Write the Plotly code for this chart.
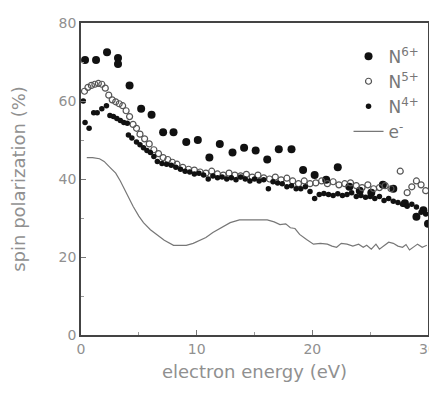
import plotly.graph_objects as go

# N6+ (large filled dots)
n6_x = [0.35, 1.3, 2.25, 3.2, 3.2, 4.2, 5.2, 6.1, 7.1, 8.0, 9.1, 10.1, 11.1, 12.0, 13.1, 14.1, 15.1, 16.1,
        17.1, 18.2, 19.2, 20.2, 21.2, 22.2, 23.2, 24.1, 25.1, 26.1, 27.0, 28.0, 29.0, 29.6, 30.0]
n6_y = [70.5, 70.5, 72.5, 71.0, 69.5, 64.0, 58.0, 56.5, 52.0, 52.0, 49.5, 50.0, 45.5, 49.0, 46.8, 48.0, 47.3, 45.0,
        47.6, 47.6, 42.3, 41.0, 39.8, 43.0, 38.0, 37.0, 36.5, 38.5, 37.5, 33.8, 30.3, 32.0, 28.5]

# N5+ (open circles)
n5_x = [0.3, 0.6, 0.9, 1.2, 1.5, 1.8, 2.1, 2.4, 2.7, 3.0, 3.3, 3.6, 3.9, 4.2, 4.5, 4.8, 5.1, 5.5, 5.9, 6.3,
        6.7, 7.1, 7.5, 7.9, 8.3, 8.8, 9.3, 9.8, 10.3, 10.8, 11.3, 11.8, 12.3, 12.8, 13.3, 13.8, 14.3, 14.8,
        15.3, 15.8, 16.3, 16.8, 17.3, 17.8, 18.3, 18.8, 19.3, 19.8, 20.3, 20.8, 21.3, 21.8, 22.3, 22.8,
        23.3, 23.8, 24.3, 24.8, 25.3, 25.8, 26.3, 26.8, 27.6, 28.2, 28.6, 29.0, 29.4, 29.8]
n5_y = [62.5, 63.5, 64.0, 64.3, 64.5, 64.3, 63.3, 61.5, 60.3, 59.8, 59.3, 58.8, 57.5, 56.0, 54.0, 53.0, 51.5, 50.3,
        49.0, 47.5, 46.5, 45.5, 45.0, 44.3, 43.8, 43.0, 42.5, 42.3, 41.8, 41.5, 42.0, 41.3, 41.0, 41.5, 41.0,
        40.8, 41.2, 40.5, 41.0, 40.3, 40.0, 40.5, 39.8, 40.2, 39.5, 38.8, 39.5, 38.8, 39.0, 39.5, 38.8, 39.3,
        38.5, 38.8, 39.0, 38.3, 37.8, 38.5, 37.5, 37.8, 38.3, 37.5, 42.0, 36.5, 38.0, 39.5, 38.5, 37.0]

# N4+ (small filled dots)
n4_x = [0.2, 0.35, 0.7, 1.1, 1.4, 1.8, 2.2, 2.5, 2.8, 3.1, 3.4, 3.7, 4.0, 4.1, 4.4, 4.8, 5.1, 5.4, 5.7, 6.0,
        6.3, 6.6, 7.0, 7.4, 7.8, 8.2, 8.6, 9.0, 9.4, 9.8, 10.2, 10.6, 11.0, 11.4, 11.8, 12.2, 12.6, 13.0,
        13.4, 13.8, 14.2, 14.6, 15.0, 15.4, 15.8, 16.2, 16.6, 17.0, 17.4, 17.8, 18.2, 18.6, 19.0, 19.4,
        19.8, 20.2, 20.6, 21.0, 21.4, 21.8, 22.2, 22.6, 23.0, 23.4, 23.8, 24.2, 24.6, 25.0, 25.4, 25.8,
        26.2, 26.6, 27.0, 27.4, 27.8, 28.2, 28.6, 29.0, 29.4, 29.8]
n4_y = [60.0, 54.5, 53.0, 57.0, 57.0, 58.0, 58.8, 56.3, 56.0, 55.5, 55.0, 54.5, 54.3, 51.3, 50.5, 49.5, 48.8, 48.0,
        47.3, 46.8, 45.8, 44.5, 44.0, 43.8, 43.5, 43.0, 42.5, 42.0, 41.8, 41.3, 41.5, 41.0, 40.0, 40.8, 40.3,
        40.5, 40.0, 40.3, 39.8, 40.5, 40.0, 39.5, 40.0, 39.5, 39.8, 37.5, 39.3, 39.0, 38.8, 38.0, 38.3, 37.5,
        37.5, 38.0, 36.8, 35.0, 36.0, 36.3, 36.0, 35.8, 36.2, 35.8, 36.0, 36.5, 35.5, 35.8, 35.3, 35.5, 35.0,
        35.5, 34.5, 35.0, 34.3, 34.0, 33.5, 33.0, 33.5, 32.8, 31.5, 31.0]

# e- (line)
e_x = [0.5, 1.0, 1.6, 2.0, 2.5, 3.0, 3.4, 3.8, 4.2, 4.5, 5.0, 5.4, 6.0, 6.5, 7.2, 8.0, 8.5, 9.1, 9.7, 10.3,
       10.8, 11.4, 12.1, 12.9, 13.7, 14.5, 15.3, 16.1, 16.7, 17.2, 17.7, 18.1, 18.5, 18.9, 19.5, 20.1, 20.7,
       21.3, 21.7, 22.1, 22.5, 23.0, 23.5, 24.0, 24.4, 24.7, 25.1, 25.5, 25.8, 26.2, 26.6, 27.0, 27.4,
       27.8, 28.1, 28.4, 28.8, 29.1, 29.5, 29.9]
e_y = [45.5, 45.5, 45.2, 44.5, 43.0, 41.5, 39.5, 37.0, 34.5, 33.0, 30.5, 28.8, 27.0, 25.8, 24.3, 23.0, 23.0, 23.0,
       23.5, 24.3, 25.0, 26.3, 27.5, 28.8, 29.5, 29.5, 29.6, 29.5, 29.0, 28.3, 28.5, 27.5, 27.3, 25.8, 24.5,
       23.3, 23.5, 23.3, 22.8, 22.5, 23.5, 23.3, 22.8, 23.3, 22.5, 23.0, 22.0, 23.3, 22.0, 23.0, 23.8, 23.5,
       22.8, 22.5, 23.2, 21.8, 22.8, 23.3, 22.5, 23.0]

x_ticks = [0, 10, 20, 30]
y_ticks = [0, 20, 40, 60, 80]

fig = go.Figure()
fig.add_trace(go.Scatter(x=n6_x, y=n6_y, mode="markers", name="N<sup>6+</sup>",
                         marker=dict(size=8, color="#111111")))
fig.add_trace(go.Scatter(x=n5_x, y=n5_y, mode="markers", name="N<sup>5+</sup>",
                         marker=dict(size=6, color="#555555", symbol="circle-open",
                                     line=dict(width=1.2))))
fig.add_trace(go.Scatter(x=n4_x, y=n4_y, mode="markers", name="N<sup>4+</sup>",
                         marker=dict(size=5.5, color="#111111")))
fig.add_trace(go.Scatter(x=e_x, y=e_y, mode="lines", name="e<sup>-</sup>",
                         line=dict(color="#777777", width=1.2)))

tick_font = dict(family="DejaVu Sans", size=14, color="#909090")
title_font = dict(family="DejaVu Sans", size=18, color="#909090")
axis_common = dict(showline=True, linecolor="#444444", linewidth=1.5, mirror=True,
                   ticks="inside", ticklen=5, tickcolor="#777777", showgrid=False, zeroline=False,
                   tickfont=tick_font)

fig.update_xaxes(range=[0, 30], tickvals=x_ticks,
                 title=dict(text="electron energy (eV)", font=title_font, standoff=10),
                 minor=dict(ticks="inside", ticklen=3, dtick=5, tickcolor="#999999"), **axis_common)
fig.update_yaxes(range=[0, 80], tickvals=y_ticks,
                 title=dict(text="spin polarization (%)", font=title_font, standoff=28),
                 minor=dict(ticks="inside", ticklen=3, dtick=10, tickcolor="#999999"), **axis_common)

fig.update_layout(
    width=437, height=396,
    margin=dict(l=73, r=17, t=7, b=69),
    paper_bgcolor="white", plot_bgcolor="white",
    font=tick_font,
    legend=dict(x=0.99, y=0.95, xanchor="right", yanchor="top", bgcolor="rgba(0,0,0,0)",
                font=dict(family="DejaVu Sans", size=17, color="#777777"), itemwidth=30),
)

fig.write_html("out.html")
